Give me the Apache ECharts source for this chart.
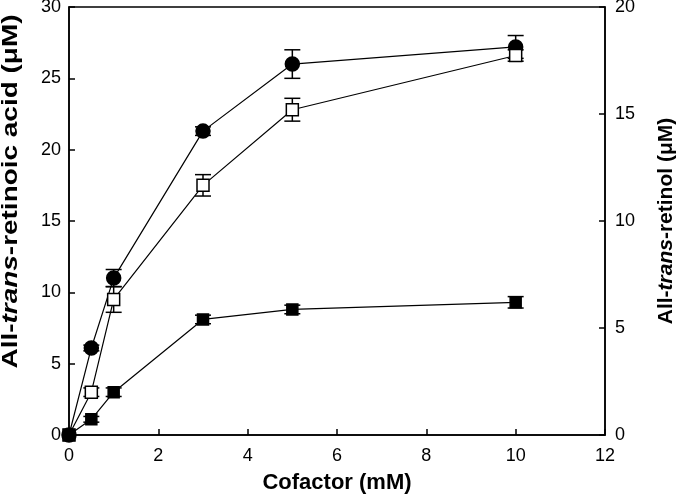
<!DOCTYPE html>
<html>
<head>
<meta charset="utf-8">
<script src="https://cdn.jsdelivr.net/npm/echarts@6/dist/echarts.min.js"></script>
<style>html,body{margin:0;padding:0;background:#fff}#c{width:680px;height:497px}</style>
</head>
<body>
<div id="c"></div>
<script>
const cofactor = [0, 0.5, 1, 3, 5, 10];
const circleValues = [0, 6.1, 11.0, 21.3, 26.0, 27.2];
const circleErrors = [0, 0.2, 0.6, 0.3, 1.0, 0.8];
const openSquareValues = [0, 3.0, 9.5, 17.5, 22.8, 26.6];
const openSquareErrors = [0, 0.3, 0.9, 0.75, 0.8, 0.4];
const filledSquareValues = [0, 1.1, 3.0, 8.1, 8.8, 9.3];
const filledSquareErrors = [0, 0.2, 0.3, 0.3, 0.3, 0.4];
const xTicks = [0, 2, 4, 6, 8, 10, 12];
const leftTicks = [0, 5, 10, 15, 20, 25, 30];
const rightTicks = [0, 5, 10, 15, 20];
const leftTitle = '{b|All-}{i|trans}{b|-retinoic acid (μM)}';
const rightTitle = '{b|All-}{i|trans}{b|-retinol (μM)}';
const xTitle = 'Cofactor (mM)';

const FONT = '"Liberation Sans", Arial, sans-serif';
const chart = echarts.init(document.getElementById('c'), null, {renderer: 'canvas'});

function pts(vals) { return cofactor.map((x, i) => [x, vals[i]]); }
function errs(vals, e) { return cofactor.map((x, i) => [x, vals[i], e[i]]); }

function errorSeries(vals, e) {
  return {
    type: 'custom',
    data: errs(vals, e),
    z: 1,
    clip: false,
    silent: true,
    renderItem: function (params, api) {
      const x = api.value(0), y = api.value(1), d = api.value(2);
      if (!d) return null;
      const top = api.coord([x, y + d]);
      const bot = api.coord([x, y - d]);
      const hw = 8;
      const style = {stroke: '#000', lineWidth: 1.5};
      return {
        type: 'group',
        children: [
          {type: 'line', shape: {x1: top[0], y1: top[1], x2: bot[0], y2: bot[1]}, style: style},
          {type: 'line', shape: {x1: top[0] - hw, y1: top[1], x2: top[0] + hw, y2: top[1]}, style: style},
          {type: 'line', shape: {x1: bot[0] - hw, y1: bot[1], x2: bot[0] + hw, y2: bot[1]}, style: style}
        ]
      };
    }
  };
}

function lineSeries(vals, symbol, size, fill) {
  return {
    type: 'line',
    data: pts(vals),
    symbol: symbol,
    symbolSize: size,
    showAllSymbol: true,
    clip: false,
    z: 3,
    lineStyle: {color: '#000', width: 1.2},
    itemStyle: {color: fill, borderColor: '#000', borderWidth: 1.5},
    emphasis: {disabled: true},
    animation: false
  };
}

function rich(size) {
  return {
    b: {fontFamily: FONT, fontWeight: 'bold', fontSize: size, color: '#000'},
    i: {fontFamily: FONT, fontWeight: 'bold', fontStyle: 'italic', fontSize: size, color: '#000'}
  };
}

chart.setOption({
  animation: false,
  backgroundColor: '#fff',
  grid: {left: 69, right: 75, top: 7, bottom: 62, outerBoundsMode: 'none', containLabel: false,
         show: true, borderColor: '#000', borderWidth: 1.5, backgroundColor: 'transparent'},
  graphic: [{
    type: 'text',
    x: 10.5, y: 191.5,
    rotation: Math.PI / 2,
    scaleX: 1.27, scaleY: 1,
    silent: true,
    style: {text: leftTitle, rich: rich(22), align: 'center', verticalAlign: 'middle'}
  }],
  xAxis: {
    type: 'value', min: xTicks[0], max: xTicks[xTicks.length - 1], interval: 2,
    name: xTitle, nameLocation: 'middle', nameGap: 37,
    nameTextStyle: {fontFamily: FONT, fontWeight: 'bold', fontSize: 22, color: '#000'},
    axisLine: {show: true, lineStyle: {color: '#000', width: 1.5}},
    axisTick: {show: true, inside: true, length: 6, lineStyle: {color: '#000', width: 1.5}},
    axisLabel: {fontFamily: FONT, fontSize: 18, color: '#000', margin: 12},
    splitLine: {show: false}
  },
  yAxis: [{
    type: 'value', min: leftTicks[0], max: leftTicks[leftTicks.length - 1], interval: 5,
    axisLine: {show: true, lineStyle: {color: '#000', width: 1.5}},
    axisTick: {show: true, inside: true, length: 6, lineStyle: {color: '#000', width: 1.5}},
    axisLabel: {fontFamily: FONT, fontSize: 18, color: '#000', margin: 8},
    splitLine: {show: false}
  }, {
    type: 'value', position: 'right', min: rightTicks[0], max: rightTicks[rightTicks.length - 1], interval: 5,
    name: rightTitle, nameLocation: 'middle', nameGap: 51, nameRotate: 90,
    nameTextStyle: {rich: rich(21)},
    axisLine: {show: true, lineStyle: {color: '#000', width: 1.5}},
    axisTick: {show: true, inside: true, length: 6, lineStyle: {color: '#000', width: 1.5}},
    axisLabel: {fontFamily: FONT, fontSize: 18, color: '#000', margin: 10},
    splitLine: {show: false}
  }],
  series: [
    errorSeries(circleValues, circleErrors),
    errorSeries(openSquareValues, openSquareErrors),
    errorSeries(filledSquareValues, filledSquareErrors),
    lineSeries(circleValues, 'circle', 14, '#000'),
    lineSeries(openSquareValues, 'rect', 12, '#fff'),
    lineSeries(filledSquareValues, 'rect', 11, '#000')
  ]
});
</script>
</body>
</html>
